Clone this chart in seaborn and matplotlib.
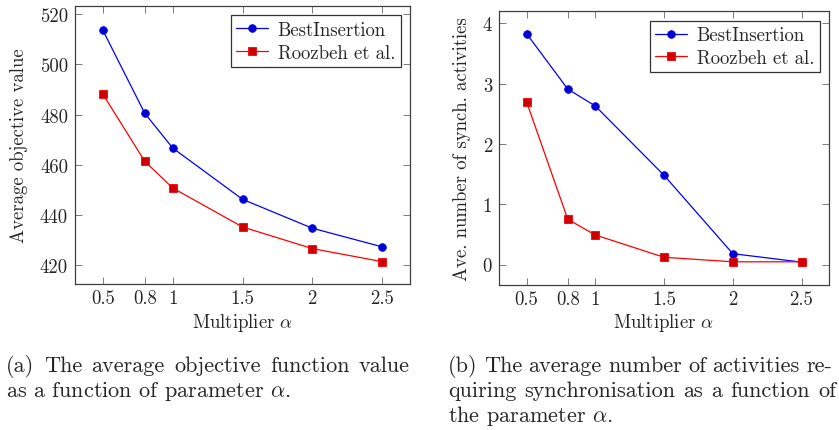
import pandas as pd
import matplotlib
matplotlib.use("Agg")
import matplotlib.pyplot as plt
import seaborn as sns

# Multiplier alpha values (x axis)
alpha = [0.5, 0.8, 1.0, 1.5, 2.0, 2.5]
alpha_labels = ['0.5', '0.8', '1', '1.5', '2', '2.5']

# Average objective value
obj_best = [513.5, 480.5, 466.7, 446.3, 434.8, 427.4]
obj_roozbeh = [488.1, 461.4, 450.8, 435.3, 426.7, 421.5]

# Average number of synchronised activities
sync_best = [3.83, 2.91, 2.63, 1.48, 0.18, 0.04]
sync_roozbeh = [2.70, 0.75, 0.49, 0.12, 0.045, 0.045]

series_names = ['BestInsertion', 'Roozbeh et al.']

caption_a = ['(a) The average objective function value',
             r'as a function of parameter $\alpha$.']
caption_b = ['(b) The average number of activities re-',
             'quiring synchronisation as a function of',
             r'the parameter $\alpha$.']

sns.set_style("ticks")
plt.rcParams['font.family'] = ['cmr10', 'DejaVu Serif']
plt.rcParams['mathtext.fontset'] = 'cm'
plt.rcParams['axes.formatter.use_mathtext'] = True
plt.rcParams['axes.unicode_minus'] = False

df_obj = pd.DataFrame({
    'alpha': alpha * 2,
    'value': obj_best + obj_roozbeh,
    'method': [series_names[0]] * 6 + [series_names[1]] * 6,
})
df_sync = pd.DataFrame({
    'alpha': alpha * 2,
    'value': sync_best + sync_roozbeh,
    'method': [series_names[0]] * 6 + [series_names[1]] * 6,
})

line_colors = {'BestInsertion': (0, 0, 1), 'Roozbeh et al.': (1, 0, 0)}
fill_colors = {'BestInsertion': (0, 0, 0.8), 'Roozbeh et al.': (0.8, 0, 0)}
mark = {'BestInsertion': 'o', 'Roozbeh et al.': 's'}

FS = 13.5
W, H = 839, 431

fig = plt.figure(figsize=(8.39, 4.31), dpi=100)
ax1 = fig.add_axes([0.0894, 0.3387, 0.3993, 0.645])
ax2 = fig.add_axes([0.5948, 0.3364, 0.3933, 0.635])


def draw(ax, df, ylim, yticks, ylabel, ylab_x, xlab_y):
    for name in series_names:
        sub = df[df['method'] == name]
        sns.lineplot(data=sub, x='alpha', y='value', ax=ax, label=name,
                     color=line_colors[name], marker=mark[name],
                     markerfacecolor=fill_colors[name],
                     markeredgecolor=line_colors[name],
                     markersize=5.5, markeredgewidth=0.6, linewidth=0.9)
    ax.set_xlim(0.3, 2.7)
    ax.set_ylim(*ylim)
    ax.set_xticks(alpha)
    ax.set_xticklabels(alpha_labels)
    ax.set_yticks(yticks)
    ax.set_yticklabels([str(t) for t in yticks])
    ax.tick_params(direction='in', length=5, width=0.6, color='0.4',
                   top=True, right=True, labelsize=FS)
    ax.tick_params(axis='y', pad=5)
    ax.tick_params(axis='x', pad=4)
    for sp in ax.spines.values():
        sp.set_color('0.25')
        sp.set_linewidth(0.9)
    ax.set_xlabel(r'Multiplier $\alpha$', fontsize=FS, va='center')
    ax.set_ylabel(ylabel, fontsize=FS, va='center')
    ax.xaxis.set_label_coords(0.5, xlab_y)
    ax.yaxis.set_label_coords(ylab_x, 0.5)
    leg = ax.legend(loc='upper right', fancybox=False, edgecolor='0.2',
                    framealpha=1, fontsize=FS, borderaxespad=0.5,
                    handlelength=1.7, handletextpad=0.5, borderpad=0.3,
                    labelspacing=0.25)
    leg.get_frame().set_linewidth(0.9)


draw(ax1, df_obj, (412.6, 523.2), [420, 440, 460, 480, 500, 520],
     'Average objective value', -0.167, -0.137)
draw(ax2, df_sync, (-0.34, 4.2), [0, 1, 2, 3, 4],
     'Ave. number of synch. activities', -0.113, -0.135)

# captions, justified like the LaTeX subcaptions
renderer = fig.canvas.get_renderer()


def caption_line(text, x0, x1, base_px, justify, fs=16):
    y = 1 - base_px / H
    words = text.split(' ')
    if not justify or len(words) == 1:
        fig.text(x0 / W, y, text, fontsize=fs, va='baseline', ha='left')
        return
    items = [fig.text(0, y, w, fontsize=fs, va='baseline', ha='left')
             for w in words]
    widths = [t.get_window_extent(renderer).width for t in items]
    gap = (x1 - x0 - sum(widths)) / (len(words) - 1)
    x = x0
    for t, w in zip(items, widths):
        t.set_x(x / W)
        x += w + gap


caption_line(caption_a[0], 6, 410, 372, True)
caption_line(caption_a[1], 6, 410, 397, False)
caption_line(caption_b[0], 448, 832, 372, True)
caption_line(caption_b[1], 448, 836, 397, True)
caption_line(caption_b[2], 448, 836, 422, False)

fig.savefig('out.png', dpi=100)
